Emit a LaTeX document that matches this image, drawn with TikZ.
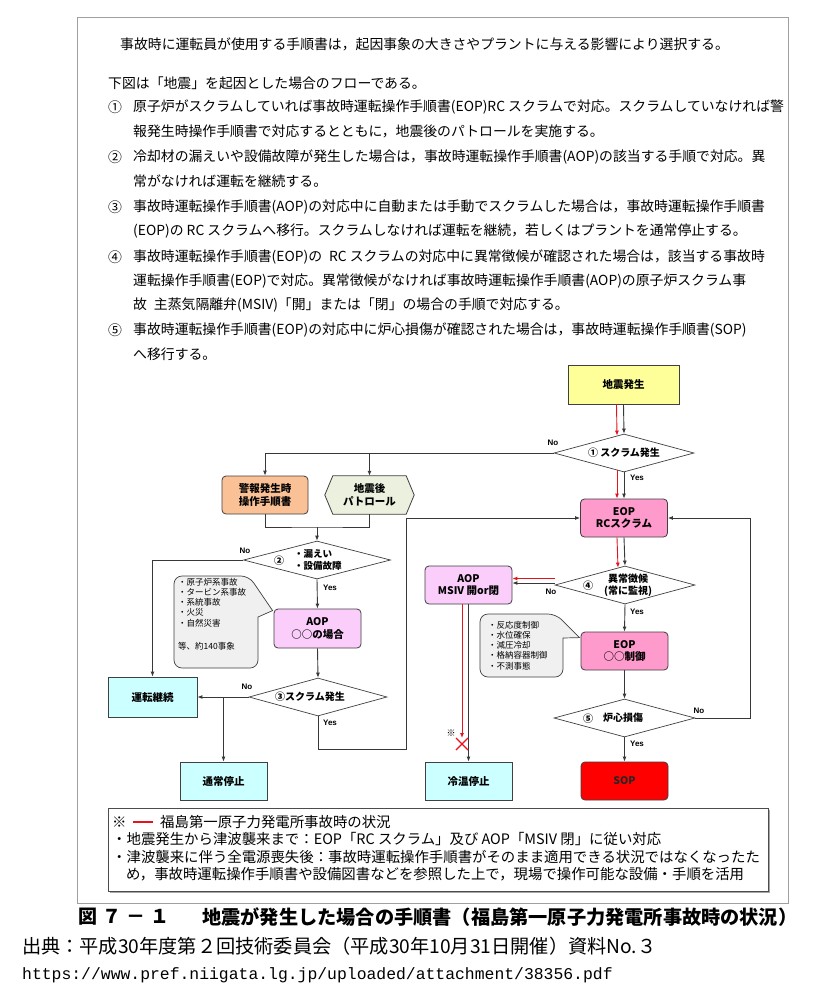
\documentclass[tikz,border=0pt]{standalone}
\usepackage{fontspec}
\setmainfont{Noto Sans CJK JP}
\newfontfamily\arialf{Liberation Sans}
\newfontfamily\monof{Liberation Mono}
\usetikzlibrary{shapes.geometric,arrows.meta,calc,backgrounds}
\definecolor{cline}{HTML}{383838}
\definecolor{cbox}{HTML}{404040}
\definecolor{cyellow}{HTML}{FFFF99}
\definecolor{corange}{HTML}{FAC196}
\definecolor{cgreen}{HTML}{EBF1DE}
\definecolor{cpink}{HTML}{FF9ACD}
\definecolor{clav}{HTML}{FBCDFB}
\definecolor{ccyan}{HTML}{CCFFFF}
\definecolor{csop}{HTML}{FF0000}
\definecolor{cbub}{HTML}{F0F0F0}
\definecolor{carr}{HTML}{E8121B}
\definecolor{cframe}{HTML}{A0A0A0}
\tikzset{
 box/.style={draw=cbox, line width=0.8pt, inner sep=0pt, align=center, minimum width=87pt, minimum height=38pt, font=\bfseries\fontsize{10.5}{12.5}\selectfont},
 rbox/.style={box, rounded corners=4pt},
 dia/.style={diamond, draw=cbox, line width=0.7pt, fill=white, inner sep=0pt, minimum width=140pt, minimum height=38pt},
 dtext/.style={inner sep=0pt, align=left, font=\bfseries\fontsize{10}{12}\selectfont},
 yn/.style={inner sep=0pt, font=\arialf\bfseries\fontsize{8}{9}\selectfont},
 arr/.style={draw=cline, line width=0.9pt, -{Latex[length=5pt,width=4pt]}},
 rarr/.style={draw=carr, line width=0.9pt, -{Latex[length=5pt,width=4pt]}},
 ln/.style={draw=cline, line width=0.9pt},
 intro/.style={anchor=west, inner sep=0pt, font=\fontsize{13.85}{16}\selectfont},
 bub/.style={draw=cbox, line width=0.7pt, fill=cbub},
 bubtext/.style={anchor=north west, inner sep=0pt, align=left, font=\fontsize{8.5}{10.2}\selectfont},
 legtext/.style={anchor=west, inner sep=0pt, font=\fontsize{14.4}{17}\selectfont},
}
\begin{document}
\begin{tikzpicture}[x=1pt,y=-1pt]
\useasboundingbox (0,0) rectangle (818,1005);
\begin{scope}[on background layer]
\fill[white] (0,0) rectangle (818,1005);
\end{scope}
% outer frame
\draw[cframe, line width=1pt] (77,17) rectangle (788,903);

% intro text
\node[intro] (t0) at (120,44) {事故時に運転員が使用する手順書は，起因事象の大きさやプラントに与える影響により選択する。};
\node[intro] (t1) at (108,83) {下図は「地震」を起因とした場合のフローである。};
\node[intro] (n1) at (108,107) {①};
\node[intro] (t2) at (133,107) {原子炉がスクラムしていれば事故時運転操作手順書(EOP)RC スクラムで対応。スクラムしていなければ警};
\node[intro] (t3) at (133,131) {報発生時操作手順書で対応するとともに，地震後のパトロールを実施する。};
\node[intro] (n2) at (108,157) {②};
\node[intro] (t4) at (133,157) {冷却材の漏えいや設備故障が発生した場合は，事故時運転操作手順書(AOP)の該当する手順で対応。異};
\node[intro] (t5) at (133,181) {常がなければ運転を継続する。};
\node[intro] (n3) at (108,207) {③};
\node[intro] (t6) at (133,207) {事故時運転操作手順書(AOP)の対応中に自動または手動でスクラムした場合は，事故時運転操作手順書};
\node[intro] (t7) at (133,231) {(EOP)の RC スクラムへ移行。スクラムしなければ運転を継続，若しくはプラントを通常停止する。};
\node[intro] (n4) at (108,257) {④};
\node[intro] (t8) at (133,257) {事故時運転操作手順書(EOP)の\hspace{0.5em}RC スクラムの対応中に異常徴候が確認された場合は，該当する事故時};
\node[intro] (t9) at (133,281) {運転操作手順書(EOP)で対応。異常徴候がなければ事故時運転操作手順書(AOP)の原子炉スクラム事};
\node[intro] (t10) at (133,305) {故\hspace{0.5em}主蒸気隔離弁(MSIV)「開」または「閉」の場合の手順で対応する。};
\node[intro] (n5) at (108,330) {⑤};
\node[intro] (t11) at (133,330) {事故時運転操作手順書(EOP)の対応中に炉心損傷が確認された場合は，事故時運転操作手順書(SOP)};
\node[intro] (t12) at (133,354) {へ移行する。};

% ---------- flowchart nodes ----------
\node[box, fill=cyellow, minimum width=111pt, minimum height=39pt] (quake) at (623.5,384.5) {地震発生};
\node[dia] (d1) at (624,453) {};
\node[dtext] at (624,453) {① スクラム発生};

\node[rbox, fill=corange, minimum width=86pt] (warn) at (265,495) {警報発生時\\操作手順書};
\node[inner sep=0pt, minimum width=89pt, minimum height=38pt, align=center, font=\bfseries\fontsize{10.5}{12.5}\selectfont] (patrol) at (369.5,495) {地震後\\パトロール};
\begin{scope}[on background layer]
\draw[draw=cbox, line width=0.8pt, fill=cgreen] (patrol.west) -- ($(patrol.north west)+(8,0)$) -- ($(patrol.north east)+(-8,0)$) -- (patrol.east) -- ($(patrol.south east)+(-8,0)$) -- ($(patrol.south west)+(8,0)$) -- cycle;
\end{scope}

\node[rbox, fill=cpink] (eoprc) at (624,518) {EOP\\RCスクラム};

\node[dia, minimum width=147pt] (d2) at (317,560) {};
\node[dtext] at (279,561) {②};
\node[dtext, anchor=west, font=\bfseries\fontsize{9.5}{11.5}\selectfont] at (294,560) {・漏えい\\・設備故障};

\node[rbox, fill=clav, minimum height=39pt] (aop) at (317.5,628.5) {AOP\\○○の場合};

\node[dia, minimum width=138pt] (d3) at (318,697) {};
\node[dtext] at (310,697) {③スクラム発生};

\node[box, fill=ccyan, minimum width=89pt, minimum height=40pt] (keizoku) at (152.5,697) {運転継続};
\node[box, fill=ccyan] (tsujo) at (223.5,781) {通常停止};

\node[rbox, fill=clav] (msiv) at (468.5,585) {AOP\\MSIV 開or閉};
\node[dia] (d4) at (625,585) {};
\node[dtext] at (588,586) {④};
\node[dtext, align=center] at (628,585) {異常徴候\\(常に監視)};

\node[rbox, fill=cpink] (eopc) at (624.5,651) {EOP\\○○制御};
\node[dia, minimum width=141pt] (d5) at (624.5,718) {};
\node[dtext] at (588,719) {⑤};
\node[dtext] at (623,718) {炉心損傷};

\node[box, fill=ccyan] (reion) at (468.5,781) {冷温停止};
\node[rbox, fill=csop, text=black!85] (sop) at (624.5,781) {SOP};

% ---------- callouts ----------
\draw[bub] ($(aop.north west)+(-1,2)$) -- (258,617) [rounded corners=8pt] -- (258,668) -- (174,668) -- (174,576) -- (249,576) [sharp corners] -- cycle;
\node[bubtext] (b1) at (178,578) {・原子炉系事故\\・タービン系事故\\・系統事故\\・火災\\・自然災害\\[13pt]等、約140事象};
\draw[bub] ($(eopc.north west)+(-1,6)$) -- (563,638) [rounded corners=8pt] -- (563,677) -- (480,677) -- (480,614) -- (556,614) [sharp corners] -- cycle;
\node[bubtext] (b2) at (488,621) {・反応度制御\\・水位確保\\・減圧冷却\\・格納容器制御\\・不測事態};

% ---------- connectors ----------
\draw[arr] (quake.south) -- (d1.north);
\draw[rarr] ($(quake.south)+(-7,0)$) -- ($(d1.north)+(-7,2)$);

\draw[arr] (d1.west) -| (warn.north);
\draw[arr] (d1.west -| patrol.north) -- (patrol.north);
\node[yn] at (553,443) {No};

\draw[arr] (d1.south) -- (eoprc.north);
\draw[rarr] ($(d1.south)+(-7,-2)$) -- ($(eoprc.north)+(-7,0)$);
\node[yn] at (637,478) {Yes};

\coordinate (m1) at (317,527);
\draw[ln] (warn.south) |- (m1) -| (patrol.south);
\draw[arr] (m1) -- (d2.north);

\draw[arr] (d2.west) -| (keizoku.north);
\node[yn] at (245,551) {No};
\draw[arr] (d2.south) -- (aop.north);
\node[yn] at (330,588) {Yes};
\draw[arr] (aop.south) -- (d3.north);

\draw[arr] (d3.west) -- (keizoku.east);
\draw[arr] (d3.west -| tsujo.north) -- (tsujo.north);
\node[yn] at (247,687) {No};

\coordinate (c3) at (406,749);
\draw[arr] (d3.south) |- (c3) |- (eoprc.west);
\node[yn] at (330,723) {Yes};

\draw[arr] (eoprc.south) -- (d4.north);
\draw[rarr] ($(eoprc.south)+(-7,0)$) -- ($(d4.north)+(-7,2)$);

\draw[arr] ($(d4.west)+(0,-2)$) -- ($(msiv.east)+(0,-2)$);
\draw[rarr] ($(d4.west)+(0,-6.5)$) -- ($(msiv.east)+(0,-6.5)$);
\node[yn] at (551,592) {No};

\draw[arr] (d4.south) -- (eopc.north);
\node[yn] at (637,612) {Yes};
\draw[arr] (eopc.south) -- (d5.north);

\coordinate (c5) at (750,718);
\draw[arr] (d5.east) -- (c5) |- (eoprc.east);
\node[yn] at (699,711) {No};
\draw[arr] (d5.south) -- (sop.north);
\node[yn] at (637,744) {Yes};

\draw[arr] (msiv.south) -- (reion.north);
\coordinate (xm) at (462,744);
\draw[rarr] ($(msiv.south)+(-6.5,0)$) -- ($(xm)+(0,-6)$);
\draw[carr, line width=1.3pt] ($(xm)+(-6,-6)$) -- ($(xm)+(6,6)$) ($(xm)+(-6,6)$) -- ($(xm)+(6,-6)$);
\node[inner sep=0pt, font=\fontsize{9}{10}\selectfont] (kome) at (451,733) {※};

% ---------- legend ----------
\draw[gray!70, line width=1.6pt] (110,892.5) -- (769.5,892.5) -- (769.5,810);
\draw[black!70, line width=0.8pt, fill=white] (108,808) rectangle (768,891);
\node[legtext] (lg0) at (112,822) {※};
\draw[carr, line width=2pt] ($(lg0.east)+(6,0)$) -- ++(20,0);
\node[legtext] (lg1) at (160,822) {福島第一原子力発電所事故時の状況};
\node[legtext] (lg2) at (112,839) {・地震発生から津波襲来まで：EOP「RC スクラム」及び AOP「MSIV 閉」に従い対応};
\node[legtext] (lg3) at (112,857) {・津波襲来に伴う全電源喪失後：事故時運転操作手順書がそのまま適用できる状況ではなくなったた};
\node[legtext] (lg4) at (126,874) {め，事故時運転操作手順書や設備図書などを参照した上で，現場で操作可能な設備・手順を活用};

% ---------- caption ----------
\node[anchor=west, inner sep=0pt, font=\bfseries\fontsize{19}{22}\selectfont] (cap1) at (78,917) {図\hspace{5pt}７\hspace{5pt}－\hspace{5pt}１};
\node[anchor=west, inner sep=0pt, font=\bfseries\fontsize{19.2}{22}\selectfont] (cap2) at (202,917) {地震が発生した場合の手順書（福島第一原子力発電所事故時の状況）};
\node[anchor=west, inner sep=0pt, font=\fontsize{19.2}{21}\selectfont] (src) at (22,946) {出典：平成30年度第２回技術委員会（平成30年10月31日開催）資料No.３};
\node[anchor=west, inner sep=0pt, font=\monof\fontsize{16.4}{18}\selectfont] (url) at (22,975) {https://www.pref.niigata.lg.jp/uploaded/attachment/38356.pdf};
\end{tikzpicture}
\end{document}
